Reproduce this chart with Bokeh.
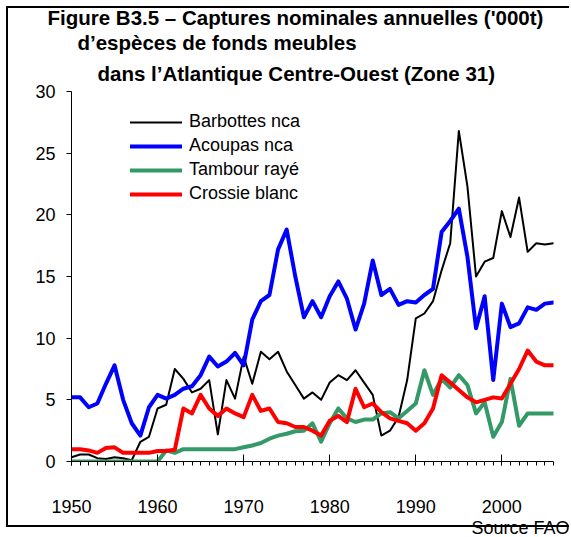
from bokeh.plotting import figure
from bokeh.models import (Title, Legend, LegendItem, SingleIntervalTicker,
                          FixedTicker, Range1d)
from bokeh.embed import file_html
from bokeh.resources import INLINE

years = list(range(1950, 2007))

barbottes = [0.35, 0.57, 0.57, 0.27, 0.2, 0.35, 0.27, 0.1, 1.6, 2.0,
             4.3, 4.6, 7.5, 6.7, 5.6, 5.9, 6.6, 2.2, 6.6, 5.1,
             8.5, 6.3, 8.9, 8.3, 8.9, 7.3, 6.2, 5.1, 5.6, 5.0,
             6.4, 7.0, 6.6, 7.4, 6.4, 5.4, 2.1, 2.5, 3.6, 6.6,
             11.6, 12.0, 13.0, 15.5, 17.7, 26.8, 22.3, 15.0, 16.2, 16.5,
             20.3, 18.2, 21.4, 17.0, 17.7, 17.6, 17.7]

acoupas = [5.2, 5.2, 4.4, 4.7, 6.3, 7.8, 5.0, 3.1, 2.1, 4.4,
           5.4, 5.1, 5.4, 5.9, 6.1, 7.0, 8.5, 7.7, 8.1, 8.8,
           7.8, 11.5, 13.0, 13.5, 17.2, 18.8, 15.0, 11.7, 13.0, 11.7,
           13.4, 14.6, 13.2, 10.7, 12.8, 16.3, 13.5, 14.0, 12.7, 13.0,
           12.9, 13.5, 14.0, 18.6, 19.5, 20.5, 16.6, 10.8, 13.4, 6.6,
           12.8, 10.9, 11.2, 12.5, 12.3, 12.8, 12.9]

tambour = [0, 0, 0, 0, 0, 0, 0, 0, 0, 0,
           0, 0.9, 0.7, 1.0, 1.0, 1.0, 1.0, 1.0, 1.0, 1.0,
           1.15, 1.3, 1.5, 1.85, 2.1, 2.25, 2.45, 2.5, 3.1, 1.6,
           3.1, 4.3, 3.5, 3.2, 3.4, 3.4, 3.9, 4.0, 3.5, 4.1,
           4.7, 7.4, 5.4, 6.7, 6.0, 7.0, 6.2, 3.9, 4.8, 2.0,
           3.2, 6.7, 2.9, 3.9, 3.9, 3.9, 3.9]

crossie = [1.0, 1.0, 0.9, 0.7, 1.1, 1.15, 0.7, 0.7, 0.7, 0.7,
           0.85, 0.85, 0.95, 4.3, 3.9, 5.4, 4.3, 3.7, 4.3, 3.9,
           3.6, 5.4, 4.1, 4.3, 3.2, 3.1, 2.8, 2.8, 2.5, 2.1,
           3.3, 3.7, 3.2, 5.9, 4.4, 4.7, 4.0, 3.5, 3.3, 3.1,
           2.5, 3.1, 4.3, 7.0, 6.4, 5.8, 5.2, 4.8, 5.0, 5.2,
           5.1, 6.3, 7.5, 9.0, 8.1, 7.8, 7.8]

series_names = ["Barbottes nca", "Acoupas nca", "Tambour rayé", "Crossie blanc"]
series_colors = ["#000000", "#0000FF", "#339966", "#FF0000"]
series_widths = [2, 4, 4, 4]
y_ticks = [0, 5, 10, 15, 20, 25, 30]

title_lines = ["Figure B3.5 – Captures nominales annuelles ('000t)",
               "d’espèces de fonds meubles",
               "dans l’Atlantique Centre-Ouest (Zone 31)"]
source_text = "Source FAO"

FONT = "Liberation Sans"
W, H = 569, 537

frame_css = """
:host::after {
  content: "";
  position: absolute;
  left: 6px; top: 6px;
  width: 563px; height: 521px;
  box-sizing: border-box;
  border: 2px solid black;
  border-right-width: 0;
  z-index: 100;
  pointer-events: none;
}
"""

p = figure(width=W, height=H, x_range=Range1d(1950, 2006), y_range=Range1d(0, 30),
           output_backend="svg", toolbar_location=None,
           min_border_left=71, min_border_right=16, min_border_top=91, min_border_bottom=76,
           background_fill_color="white", border_fill_color="white",
           stylesheets=[frame_css])
p.outline_line_color = None
p.xgrid.grid_line_color = None
p.ygrid.grid_line_color = None

# titles (added from the frame outward)
offsets = [-24, 6, 26]
standoffs = [0, 0, 13]
for txt, off, so in reversed(list(zip(title_lines, offsets, standoffs))):
    p.add_layout(Title(text=txt, align="left", offset=off, standoff=so,
                       text_font=FONT, text_font_size="20.5px", text_font_style="bold",
                       text_color="black", text_line_height=1.0), "above")

# axes
p.xaxis.ticker = SingleIntervalTicker(interval=10, num_minor_ticks=10)
p.xaxis.major_tick_in = 7
p.xaxis.major_tick_out = 4
p.xaxis.minor_tick_in = 0
p.xaxis.minor_tick_out = 4
p.xaxis.major_label_standoff = 34
p.yaxis.ticker = FixedTicker(ticks=y_ticks)
p.yaxis.major_tick_in = 0
p.yaxis.major_tick_out = 5
p.yaxis.minor_tick_line_color = None
p.yaxis.major_label_standoff = 11
for ax in (p.xaxis, p.yaxis):
    ax.axis_line_color = "black"
    ax.major_tick_line_color = "black"
    ax.major_label_text_font = FONT
    ax.major_label_text_font_size = "18px"
    ax.major_label_text_color = "black"
p.xaxis.minor_tick_line_color = "black"

renderers = []
for vals, col, lw in zip([barbottes, acoupas, tambour, crossie], series_colors, series_widths):
    r = p.line(years, vals, line_color=col, line_width=lw, line_join="round", line_cap="round")
    renderers.append(r)

legend = Legend(items=[LegendItem(label=n, renderers=[r]) for n, r in zip(series_names, renderers)],
                location=(59, 257), label_text_font=FONT, label_text_font_size="18px",
                label_text_color="black", glyph_width=52, glyph_height=20, label_height=20,
                spacing=3, padding=0, margin=0, label_standoff=7,
                border_line_color=None, background_fill_alpha=0)
p.add_layout(legend)

p.add_layout(Title(text=source_text, align="right", offset=-16, standoff=0,
                   text_font=FONT, text_font_size="18px", text_font_style="normal",
                   text_color="black"), "below")

open("out.html", "w").write(file_html(p, INLINE))
